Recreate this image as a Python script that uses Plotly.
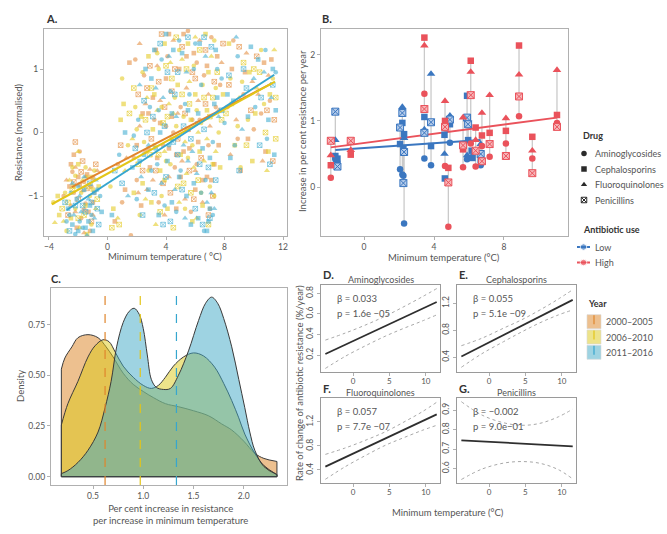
import plotly.graph_objects as go

W, H = 667, 534
FONT = "Lato"
TXT = "#555555"
FRAME = "#B0B0B0"

# ---------------- Panel A: resistance vs minimum temperature (x, y, drug) ----------------
A_2000_2005 = [
    (-2.4,-0.62,'a'),(-2.2,-0.55,'f'),(-2.0,-0.70,'c'),(-1.8,-0.62,'p'),(-1.6,-0.78,'a'),(-1.4,-0.66,'c'),
    (-1.2,-0.58,'f'),(-2.6,-0.85,'c'),(-2.3,-0.95,'a'),(-2.0,-1.05,'p'),(-1.7,-0.92,'f'),(-1.5,-1.12,'a'),
    (-1.3,-1.25,'c'),(-1.1,-1.40,'p'),(-1.8,-1.35,'a'),(-2.1,-1.50,'c'),(-1.6,-1.58,'f'),(-1.2,-1.55,'a'),
    (-2.7,-1.30,'p'),(-2.5,-1.15,'f'),(-1.9,-0.30,'a'),(-2.2,-0.15,'p'),(-1.0,-0.72,'c'),(-0.9,-0.95,'a'),
    (-0.7,-0.60,'f'),(-3.0,-1.00,'a'),(-1.4,-0.88,'p'),(-1.0,-1.10,'c'),
    (-2.8,-0.75,'f'),(-2.5,-0.50,'c'),(-2.3,-0.78,'p'),(-1.9,-0.82,'c'),(-1.5,-0.70,'f'),(-1.1,-0.85,'a'),
    (-0.8,-0.50,'p'),(-2.2,-1.25,'f'),(-1.6,-1.22,'c'),(-1.0,-1.30,'f'),(-2.3,-0.35,'c'),(-1.7,-0.45,'p'),
    (0.5,-1.40,'c'),(1.0,-1.10,'a'),(1.3,-0.40,'f'),(1.6,-1.62,'a'),(1.5,1.10,'c'),(0.9,-0.20,'p'),
    (1.2,-0.90,'c'),(0.7,-0.50,'a'),
    (1.8,-0.40,'a'),(2.0,-0.20,'c'),(2.2,0.10,'f'),(2.4,-0.60,'p'),(2.6,-0.30,'a'),(2.8,0.30,'c'),
    (2.1,0.60,'p'),(2.5,0.90,'a'),(2.9,1.05,'p'),(2.7,-0.90,'f'),(2.3,-1.15,'c'),(2.0,-0.75,'a'),
    (2.9,-0.55,'c'),(1.9,1.15,'a'),(2.6,0.45,'f'),(3.0,-0.10,'p'),
    (2.1,-0.95,'f'),(2.4,0.30,'c'),(2.7,0.70,'p'),(2.2,1.40,'f'),(2.8,-0.25,'a'),
    (3.2,0.20,'a'),(3.4,-0.40,'c'),(3.6,0.50,'f'),(3.8,-0.80,'p'),(4.0,0.10,'a'),(4.2,-0.25,'c'),
    (4.4,0.65,'p'),(4.6,-0.55,'a'),(4.8,0.30,'f'),(3.3,1.30,'c'),(3.7,1.55,'p'),(4.1,1.20,'a'),
    (4.5,1.45,'f'),(4.9,1.00,'c'),(3.5,-1.10,'a'),(3.9,-1.30,'f'),(4.3,-0.95,'p'),(4.7,-1.20,'c'),
    (3.1,-0.75,'f'),(4.0,0.85,'c'),(4.5,0.00,'a'),(3.5,0.80,'p'),(4.8,-0.10,'p'),
    (3.1,0.55,'c'),(3.3,-0.60,'p'),(3.6,0.15,'c'),(3.8,-0.20,'a'),(3.4,1.05,'f'),(3.9,0.40,'p'),
    (4.2,-0.70,'f'),(4.4,0.25,'c'),(4.6,1.00,'p'),(4.7,-0.35,'c'),(4.2,1.55,'c'),
    (5.0,0.40,'a'),(5.2,-0.30,'c'),(5.4,0.70,'f'),(5.6,-0.60,'p'),(5.8,0.20,'a'),(6.0,-0.90,'c'),
    (6.2,0.50,'f'),(6.4,-0.40,'p'),(6.6,0.90,'a'),(6.8,-0.70,'c'),(7.0,0.10,'f'),(7.2,-1.00,'p'),
    (7.4,0.40,'a'),(7.6,-0.20,'c'),(7.8,1.10,'f'),(5.1,1.35,'p'),(5.5,1.60,'a'),(5.9,1.25,'c'),
    (6.3,1.45,'f'),(6.7,1.30,'p'),(7.1,1.50,'a'),(7.5,1.20,'c'),(7.9,1.40,'p'),(5.3,-1.05,'f'),
    (5.7,-1.25,'a'),(6.1,-0.50,'a'),(6.5,-1.10,'f'),(6.9,-1.30,'p'),(7.3,-0.50,'c'),(5.5,0.05,'p'),
    (6.2,-0.15,'c'),(6.9,0.60,'f'),(7.7,0.75,'a'),(5.0,-0.70,'c'),(6.0,0.85,'p'),
    (5.1,-0.45,'f'),(5.3,0.30,'p'),(5.6,-0.25,'c'),(5.8,0.95,'p'),(6.0,-0.60,'f'),(6.3,0.20,'a'),
    (6.5,-0.75,'c'),(6.7,0.45,'p'),(6.9,-0.20,'a'),(7.1,-0.75,'c'),(7.3,0.80,'p'),(7.6,0.35,'f'),
    (5.4,1.20,'c'),(6.1,1.10,'a'),(6.8,1.05,'c'),(7.0,-1.20,'a'),(5.9,-1.05,'p'),(5.2,1.55,'c'),
    (8.2,0.40,'a'),(8.5,1.00,'c'),(8.8,0.20,'f'),(9.0,1.35,'p'),(9.3,0.60,'a'),(9.6,-0.10,'c'),
    (9.9,0.80,'f'),(10.2,1.20,'p'),(10.5,0.30,'a'),(10.8,-0.30,'c'),(11.0,0.90,'f'),(11.3,-0.45,'p'),
    (8.4,-0.35,'f'),(9.1,-0.60,'c'),(10.0,0.05,'a'),(10.7,1.10,'c'),(11.1,0.50,'a'),(8.6,1.45,'a'),
    (9.5,1.25,'f'),(11.4,0.20,'p'),
    (8.3,0.75,'p'),(8.9,-0.10,'a'),(9.4,0.95,'c'),(9.8,0.35,'p'),(10.3,0.60,'f'),(10.6,-0.45,'f'),
    (11.2,1.15,'c'),(10.9,0.35,'p'),
]
A_2006_2010 = [
    (-3.7,-1.10,'a'),(-3.6,-1.42,'f'),(-3.3,-1.30,'c'),(-3.1,-1.20,'p'),(-2.9,-0.95,'a'),(-2.6,-0.75,'f'),
    (-2.4,-0.90,'p'),(-2.2,-0.68,'a'),(-2.0,-0.50,'c'),(-1.7,-0.75,'f'),(-1.5,-0.55,'a'),(-1.3,-0.85,'p'),
    (-1.1,-0.70,'c'),(-0.9,-0.60,'a'),(-2.5,-1.35,'c'),(-2.2,-1.20,'a'),(-1.9,-1.50,'f'),(-1.6,-1.30,'p'),
    (-1.2,-1.00,'a'),(-0.8,-1.20,'f'),(-0.6,-0.85,'c'),(-2.8,-1.55,'a'),(-1.4,-1.60,'c'),(-2.0,-0.30,'f'),
    (-3.4,-1.00,'c'),(-3.0,-1.40,'f'),(-2.7,-1.10,'p'),(-2.3,-0.85,'c'),(-1.8,-0.95,'a'),(-1.4,-0.70,'f'),
    (-1.0,-0.90,'c'),(-0.7,-1.05,'p'),(-2.0,-1.35,'p'),(-1.5,-1.15,'c'),(-2.4,-0.55,'a'),(-1.1,-1.45,'a'),
    (0.2,-0.85,'a'),(0.7,-1.35,'f'),(0.8,-1.45,'p'),(1.1,0.45,'c'),(1.0,0.85,'a'),(1.4,-0.20,'a'),
    (0.4,-1.20,'c'),(1.5,0.30,'p'),(0.3,-1.50,'p'),(1.2,-0.60,'f'),(0.9,0.20,'c'),
    (1.7,-0.10,'f'),(1.9,0.40,'a'),(2.1,-0.50,'p'),(2.3,0.25,'c'),(2.5,-0.15,'a'),(2.7,0.55,'f'),
    (2.9,-0.35,'p'),(1.8,-0.95,'c'),(2.2,-1.30,'a'),(2.6,-1.05,'f'),(2.4,0.95,'a'),(2.8,1.20,'c'),
    (3.0,0.70,'p'),(1.8,0.70,'p'),(2.0,0.05,'a'),(2.4,-0.80,'c'),(2.6,0.20,'p'),(2.8,-0.60,'a'),
    (3.0,-1.10,'c'),
    (3.2,-0.20,'a'),(3.4,0.35,'f'),(3.6,-0.60,'c'),(3.8,0.15,'p'),(4.0,-0.45,'a'),(4.2,0.45,'f'),
    (4.4,-0.10,'c'),(4.6,0.55,'a'),(4.8,-0.85,'p'),(3.3,-1.45,'f'),(3.7,-1.00,'a'),(4.1,-1.20,'c'),
    (4.5,-1.50,'p'),(4.9,-1.10,'f'),(3.5,1.00,'a'),(3.9,1.40,'c'),(4.3,1.10,'f'),(4.7,1.50,'p'),
    (3.1,0.05,'c'),(4.4,0.85,'p'),(3.9,-0.30,'f'),(4.7,0.10,'a'),
    (3.2,0.60,'c'),(3.5,-0.35,'p'),(3.7,0.40,'a'),(3.9,-0.75,'c'),(4.1,0.25,'p'),(4.3,-0.50,'a'),
    (4.5,0.30,'f'),(4.8,0.75,'c'),(3.4,1.25,'a'),(4.0,1.05,'p'),(4.9,1.30,'a'),(3.6,-1.25,'p'),
    (5.0,-0.35,'c'),(5.2,0.25,'a'),(5.4,-0.65,'f'),(5.6,0.45,'p'),(5.8,-0.20,'a'),(6.0,0.60,'c'),
    (6.2,-0.75,'p'),(6.4,0.15,'a'),(6.6,-0.45,'f'),(6.8,0.35,'c'),(7.0,-0.85,'a'),(7.2,0.55,'p'),
    (7.4,-0.30,'f'),(7.6,0.00,'a'),(7.9,0.60,'c'),(5.1,1.15,'f'),(5.5,1.40,'c'),(5.9,1.05,'a'),
    (6.3,1.30,'p'),(6.7,1.55,'c'),(7.1,1.20,'f'),(7.5,0.95,'p'),(5.3,-1.20,'a'),(5.7,-0.95,'p'),
    (6.1,-1.35,'f'),(6.5,-1.15,'c'),(6.9,-1.45,'p'),(7.3,-1.00,'a'),(5.6,0.80,'f'),(6.5,0.75,'a'),
    (7.7,-0.55,'c'),(5.2,-0.80,'p'),(6.2,0.00,'f'),
    (5.1,0.60,'p'),(5.3,-0.15,'f'),(5.5,-0.40,'a'),(5.7,0.20,'c'),(5.9,-0.55,'f'),(6.1,0.35,'a'),
    (6.3,-0.30,'c'),(6.6,0.55,'p'),(6.8,-0.10,'f'),(7.0,0.25,'p'),(7.2,-0.50,'c'),(7.4,0.70,'a'),
    (7.8,0.20,'p'),(5.4,1.00,'p'),(6.0,1.50,'f'),(6.9,0.95,'c'),(7.3,1.45,'a'),(6.4,-0.95,'a'),
    (5.8,-1.40,'c'),
    (8.1,0.30,'p'),(8.4,0.85,'a'),(8.7,-0.20,'c'),(9.0,0.55,'f'),(9.3,1.10,'p'),(9.6,0.20,'a'),
    (9.9,-0.45,'c'),(10.2,0.70,'f'),(10.5,1.30,'a'),(10.8,0.00,'p'),(11.1,0.60,'c'),(11.4,1.30,'f'),
    (8.3,1.40,'c'),(9.1,-0.55,'a'),(10.0,1.00,'p'),(10.9,-0.60,'f'),(11.3,0.85,'a'),(8.9,0.10,'a'),
    (9.7,0.95,'c'),(11.5,-0.10,'p'),
    (8.5,0.45,'c'),(9.2,0.80,'a'),(9.5,-0.20,'p'),(10.1,0.30,'c'),(10.4,0.95,'p'),(10.7,0.45,'a'),
    (11.0,-0.30,'c'),(11.5,0.55,'p'),
]
A_2011_2016 = [
    (-2.7,-1.20,'c'),(-2.6,-1.55,'p'),(-2.5,-0.95,'a'),(-2.3,-1.30,'f'),(-2.1,-1.05,'c'),(-1.9,-1.40,'a'),
    (-1.7,-1.15,'p'),(-1.5,-1.50,'c'),(-1.3,-1.05,'f'),(-1.1,-1.30,'a'),(-0.9,-0.95,'c'),(-0.7,-1.20,'p'),
    (-0.5,-1.00,'a'),(-2.4,-0.80,'f'),(-2.0,-0.85,'a'),(-1.6,-0.90,'c'),(-1.2,-0.80,'p'),(-0.8,-0.75,'f'),
    (-2.2,-1.60,'a'),(-1.4,-1.62,'f'),(-1.0,-1.55,'c'),(-2.8,-1.40,'a'),(-1.8,-1.25,'f'),(-0.6,-1.45,'p'),
    (-1.2,-1.15,'c'),
    (-2.9,-1.10,'p'),(-2.6,-1.30,'a'),(-2.4,-1.45,'c'),(-2.2,-1.15,'p'),(-1.9,-1.00,'f'),(-1.7,-1.50,'a'),
    (-1.5,-1.25,'p'),(-1.3,-1.40,'c'),(-1.1,-1.10,'p'),(-0.9,-1.35,'f'),(-0.7,-0.90,'a'),(-2.0,-1.55,'c'),
    (-1.6,-0.70,'f'),(-0.4,-1.25,'c'),
    (0.8,-0.35,'a'),(1.2,0.00,'c'),(0.5,-0.60,'p'),(1.4,-1.00,'f'),(1.0,-0.80,'p'),(0.3,-1.30,'c'),
    (1.7,-0.55,'c'),(1.9,-0.25,'p'),(2.1,0.20,'a'),(2.3,-0.70,'f'),(2.5,-0.35,'c'),(2.7,0.00,'p'),
    (2.9,0.40,'a'),(2.0,-1.05,'a'),(2.4,-1.30,'p'),(2.8,-0.90,'c'),(2.2,0.75,'f'),(2.6,1.00,'c'),
    (3.0,-0.60,'a'),(1.8,-0.05,'a'),(2.2,-0.45,'c'),(2.5,0.50,'p'),(2.8,-0.20,'f'),(3.0,0.85,'c'),
    (3.2,-0.95,'p'),(3.4,-0.50,'a'),(3.6,0.00,'c'),(3.8,0.55,'f'),(4.0,-0.70,'p'),(4.2,-0.20,'a'),
    (4.4,0.30,'c'),(4.6,-0.90,'f'),(4.8,-0.35,'p'),(3.3,0.70,'f'),(3.7,1.15,'a'),(4.1,0.95,'p'),
    (4.5,1.30,'c'),(4.9,1.45,'a'),(3.5,-1.30,'c'),(3.9,-1.15,'a'),(4.3,-1.40,'p'),(4.7,-1.25,'a'),
    (3.1,0.25,'p'),(4.0,1.55,'c'),(4.6,0.60,'p'),(3.6,1.40,'p'),
    (3.3,-0.25,'c'),(3.5,0.35,'a'),(3.7,-0.80,'f'),(3.9,0.10,'p'),(4.1,-0.45,'c'),(4.3,0.65,'a'),
    (4.5,-0.15,'p'),(4.7,0.25,'f'),(4.9,-0.70,'c'),(3.2,1.30,'c'),(4.2,1.20,'f'),(4.8,0.95,'p'),
    (3.8,-1.45,'p'),(4.4,-1.10,'c'),
    (5.0,-0.60,'a'),(5.2,0.10,'p'),(5.4,-1.00,'c'),(5.6,0.60,'a'),(5.8,-0.30,'f'),(6.0,-1.20,'p'),
    (6.2,0.30,'c'),(6.4,-0.95,'a'),(6.6,0.05,'p'),(6.8,-1.10,'f'),(7.0,-0.40,'c'),(7.2,-1.30,'a'),
    (7.4,-0.75,'p'),(7.6,0.25,'f'),(7.8,0.85,'a'),(5.1,1.25,'c'),(5.5,1.50,'p'),(5.9,1.00,'a'),
    (6.3,1.40,'c'),(6.7,1.20,'f'),(7.1,1.35,'p'),(7.5,1.00,'a'),(5.3,-1.35,'f'),(5.7,-1.45,'c'),
    (6.1,-0.65,'f'),(6.5,-1.45,'p'),(6.9,-1.40,'c'),(7.3,-1.20,'f'),(6.6,-1.55,'a'),(7.0,-1.35,'p'),
    (5.5,0.35,'c'),(6.4,0.75,'a'),(7.3,0.45,'c'),(5.2,-0.20,'f'),
    (5.1,-0.90,'p'),(5.3,0.45,'a'),(5.5,-0.45,'f'),(5.7,-0.10,'p'),(5.9,-0.80,'c'),(6.1,0.15,'a'),
    (6.3,-0.50,'p'),(6.5,-0.25,'c'),(6.7,-0.75,'a'),(6.9,-0.55,'p'),(7.1,-0.95,'f'),(7.2,-0.15,'a'),
    (7.5,0.55,'c'),(7.8,0.35,'p'),(5.4,0.95,'f'),(6.0,1.40,'a'),(6.6,1.50,'p'),(7.4,1.30,'c'),
    (6.2,-1.35,'c'),(6.8,-1.55,'c'),(7.0,-1.20,'c'),
    (8.0,0.15,'a'),(8.3,0.90,'p'),(8.6,0.50,'c'),(8.9,1.20,'a'),(9.2,0.05,'f'),(9.5,0.70,'p'),
    (9.8,1.35,'c'),(10.1,0.40,'a'),(10.4,-0.20,'p'),(10.7,0.95,'f'),(11.0,0.20,'c'),(11.3,0.75,'p'),
    (11.5,0.95,'a'),(8.4,-0.40,'c'),(9.0,-0.60,'p'),(10.3,1.15,'c'),(10.9,-0.10,'a'),(11.2,0.55,'f'),
    (11.4,-0.35,'c'),(8.8,1.50,'f'),
    (8.2,0.60,'c'),(8.7,-0.20,'a'),(9.3,1.00,'p'),(9.6,0.25,'c'),(10.0,0.85,'f'),(10.5,0.55,'p'),
    (10.8,1.30,'a'),(11.1,-0.50,'p'),(11.5,0.35,'c'),(11.3,1.00,'c'),
]
A_fit_x = {"2000–2005": [-2.44, 11.2], "2006–2010": [-3.81, 11.45], "2011–2016": [-2.79, 11.4]}
A_fit_y = {"2000–2005": [-0.86, 0.77], "2006–2010": [-1.13, 0.80], "2011–2016": [-1.22, 0.91]}

# ---------------- Panel B: per-country rates (temp, use, amino, ceph, fluoro, pen) ----------------
B_columns = [
    (-1.64, 'Low', 0.42, 0.47, 0.71, 1.14),
    (-1.52, 'Low', 0.37, 0.43, None, 0.31),
    (2.06, 'Low', 0.27, 0.65, None, 0.90),
    (2.19, 'Low', 0.19, 0.97, 1.21, 1.12),
    (2.29, 'Low', -0.55, 0.80, 0.74, 0.53),
    (2.25, 'Low', 0.17, 0.59, None, 0.06),
    (3.45, 'Low', 0.43, 1.06, 0.87, 0.82),
    (3.83, 'Low', 0.33, 0.62, 1.71, 0.98),
    (4.60, 'Low', None, 0.79, 0.50, None),
    (4.62, 'Low', None, 0.13, None, None),
    (4.91, 'Low', 0.67, 0.95, 1.08, 1.02),
    (5.89, 'Low', 0.42, 1.38, 0.48, 1.05),
    (5.95, 'Low', None, 0.71, None, 0.95),
    (6.15, 'Low', 0.45, 0.55, None, None),
    (6.20, 'Low', None, 0.44, None, None),
    (6.67, 'Low', 0.33, 0.41, 0.65, 0.50),
    (-1.90, 'High', 0.14, 0.33, 0.48, 0.70),
    (-0.76, 'High', None, 0.49, 0.56, 0.70),
    (3.45, 'High', 1.41, 2.26, 2.14, 1.18),
    (4.63, 'High', 0.32, 1.00, 1.30, 0.91),
    (4.82, 'High', -0.60, 0.29, None, 0.07),
    (5.66, 'High', 0.30, 0.57, 1.05, 0.63),
    (6.10, 'High', 0.66, 1.91, 1.74, 1.39),
    (6.38, 'High', 0.31, 0.90, 0.71, 0.55),
    (6.74, 'High', 0.62, 0.78, 1.12, 0.39),
    (7.18, 'High', 0.46, 0.82, 1.39, 0.65),
    (8.11, 'High', 0.66, 0.85, 1.04, 0.47),
    (8.86, 'High', 1.07, 2.14, 1.70, 1.37),
    (9.62, 'High', 0.43, 0.76, 0.55, 0.21),
    (11.03, 'High', 0.97, 1.09, 1.77, 0.91),
]
B_fit_x = {"Low": [-1.64, 6.67], "High": [-1.90, 11.03]}
B_fit_y = {"Low": [0.56, 0.71], "High": [0.60, 1.05]}

# ---------------- Panel C: density of per-country slopes ----------------
C_x = {
    "2000–2005": [0.185,0.22,0.29,0.35,0.45,0.55,0.63,0.70,0.80,0.90,1.00,1.10,1.22,1.35,1.50,1.65,1.78,1.88,2.00,2.11,2.20,2.33],
    "2006–2010": [0.185,0.25,0.35,0.45,0.52,0.60,0.66,0.72,0.80,0.90,1.00,1.08,1.15,1.22,1.30,1.40,1.50,1.60,1.71,1.80,1.88,1.95,2.01,2.11,2.20,2.33],
    "2011–2016": [0.185,0.25,0.35,0.45,0.55,0.62,0.68,0.735,0.80,0.86,0.91,0.96,1.00,1.04,1.08,1.13,1.20,1.27,1.35,1.45,1.55,1.62,1.68,1.74,1.80,1.88,1.95,2.01,2.06,2.11,2.20,2.33],
}
C_y = {
    "2000–2005": [0.53,0.585,0.64,0.685,0.70,0.685,0.64,0.59,0.51,0.455,0.42,0.39,0.36,0.345,0.325,0.30,0.26,0.23,0.175,0.115,0.09,0.075],
    "2006–2010": [0.255,0.36,0.47,0.59,0.645,0.675,0.665,0.615,0.545,0.49,0.45,0.435,0.45,0.49,0.545,0.59,0.61,0.595,0.54,0.46,0.375,0.29,0.21,0.115,0.055,0.01],
    "2011–2016": [0.015,0.03,0.07,0.13,0.22,0.34,0.47,0.64,0.76,0.815,0.83,0.80,0.73,0.60,0.48,0.44,0.43,0.435,0.50,0.62,0.77,0.855,0.885,0.855,0.78,0.64,0.48,0.34,0.22,0.13,0.05,0.01],
}
C_means = {"2000–2005": 0.62, "2006–2010": 0.97, "2011–2016": 1.33}

# ---------------- Panels D-G: rate of change vs temperature ----------------
DG_drugs = ["Aminoglycosides", "Cephalosporins", "Fluoroquinolones", "Penicillins"]
DG_fit_x = [-3.8, 11.5]
DG_fit_y = {"Aminoglycosides": [0.21, 0.715], "Cephalosporins": [0.41, 1.25],
            "Fluoroquinolones": [0.455, 1.327], "Penicillins": [0.745, 0.714]}
DG_ci_x = [-3.8, -1.0, 2.0, 4.5, 7.0, 9.5, 11.5]
DG_upper = {"Aminoglycosides": [0.345, 0.415, 0.50, 0.58, 0.67, 0.765, 0.845],
            "Cephalosporins": [0.57, 0.68, 0.83, 0.955, 1.10, 1.26, 1.40],
            "Fluoroquinolones": [0.66, 0.77, 0.91, 1.04, 1.20, 1.37, 1.53],
            "Penicillins": [0.943, 0.875, 0.835, 0.822, 0.832, 0.865, 0.905]}
DG_lower = {"Aminoglycosides": [0.07, 0.19, 0.30, 0.385, 0.46, 0.53, 0.59],
            "Cephalosporins": [0.25, 0.45, 0.63, 0.775, 0.91, 1.025, 1.10],
            "Fluoroquinolones": [0.245, 0.46, 0.66, 0.815, 0.94, 1.06, 1.145],
            "Penicillins": [0.544, 0.597, 0.628, 0.636, 0.627, 0.595, 0.547]}
DG_beta = {"Aminoglycosides": "β = 0.033", "Cephalosporins": "β = 0.055",
           "Fluoroquinolones": "β = 0.057", "Penicillins": "β = −0.002"}
DG_p = {"Aminoglycosides": "p = 1.6e −05", "Cephalosporins": "p = 5.1e −09",
        "Fluoroquinolones": "p = 7.7e −07", "Penicillins": "p = 9.0e−01"}
DG_yticks = {"Aminoglycosides": [0.2, 0.4, 0.6, 0.8], "Cephalosporins": [0.4, 0.8, 1.2],
             "Fluoroquinolones": [0.4, 0.8, 1.2], "Penicillins": [0.6, 0.7, 0.8, 0.9]}
DG_yrange = {"Aminoglycosides": [0.035, 0.88], "Cephalosporins": [0.18, 1.47],
             "Fluoroquinolones": [0.183, 1.6], "Penicillins": [0.526, 0.962]}

# ---------------- styles ----------------
YEARS = ["2000–2005", "2006–2010", "2011–2016"]
PT_COL = {"2000–2005": "rgb(228,145,70)", "2006–2010": "rgb(228,204,40)", "2011–2016": "rgb(70,175,210)"}
FIT_COL = {"2000–2005": "#E0852C", "2006–2010": "#E3C518", "2011–2016": "#36A6CF"}
FILL_COL = {"2000–2005": "rgba(219,129,31,0.5)", "2006–2010": "rgba(219,199,21,0.5)", "2011–2016": "rgba(61,167,197,0.5)"}
FILL_SOLID = {"2000–2005": "#EDC08F", "2006–2010": "#EDE38A", "2011–2016": "#9ED3E2"}
USE_COL = {"Low": "#3B77C0", "High": "#EA525B"}
USE_LIGHT = {"Low": "#B6CCEA", "High": "#F6B6B9"}
DRUG_CODES = ['a', 'c', 'f', 'p']
DRUG_NAMES = ["Aminoglycosides", "Cephalosporins", "Fluoroquinolones", "Penicillins"]
SYMBOL = {'a': 'circle', 'c': 'square', 'f': 'triangle-up', 'p': 'square-x-open'}


def px(X):
    return X / W


def py(Y):
    return 1 - Y / H


def axis(x0, x1, rng, ticks, anchor, tickangle=None, vertical=False, y0=None, y1=None):
    d = dict(domain=[py(y1), py(y0)] if vertical else [px(x0), px(x1)], range=rng,
             tickmode='array', tickvals=ticks, showline=True, mirror=True, linecolor=FRAME,
             linewidth=1.3, ticks='outside', ticklen=3, tickcolor=FRAME, tickwidth=1,
             tickfont=dict(size=8.5, color=TXT, family=FONT), showgrid=False, zeroline=False,
             anchor=anchor, fixedrange=True)
    if tickangle is not None:
        d['tickangle'] = tickangle
    return d


fig = go.Figure()

# ---- Panel A
for yr, pts in zip(YEARS, [A_2000_2005, A_2006_2010, A_2011_2016]):
    for code in DRUG_CODES:
        sel = [p for p in pts if p[2] == code]
        is_open = code == 'p'
        fig.add_trace(go.Scatter(
            x=[p[0] for p in sel], y=[p[1] for p in sel], mode='markers', xaxis='x', yaxis='y',
            marker=dict(symbol=SYMBOL[code], size=4.6 if code != 'f' else 5.4, color=PT_COL[yr], opacity=0.6,
                        line=dict(width=1 if is_open else 0, color=PT_COL[yr])),
            showlegend=False, hoverinfo='skip'))
for yr in YEARS:
    fig.add_trace(go.Scatter(x=A_fit_x[yr], y=A_fit_y[yr], mode='lines', xaxis='x', yaxis='y',
                             line=dict(color=FIT_COL[yr], width=2), showlegend=False, hoverinfo='skip'))

# ---- Panel B
seg_x, seg_y = [], []
for col in B_columns:
    vals = [v for v in col[2:] if v is not None]
    seg_x += [col[0], col[0], None]
    seg_y += [min(vals), max(vals), None]
fig.add_trace(go.Scatter(x=seg_x, y=seg_y, mode='lines', xaxis='x2', yaxis='y2',
                         line=dict(color='#CACACA', width=1.3), showlegend=False, hoverinfo='skip'))
for use in ["Low", "High"]:
    fig.add_trace(go.Scatter(x=B_fit_x[use], y=B_fit_y[use], mode='lines', xaxis='x2', yaxis='y2',
                             line=dict(color=USE_COL[use], width=2), showlegend=False, hoverinfo='skip'))
for use in ["Low", "High"]:
    for i, code in enumerate(DRUG_CODES):
        xs = [c[0] for c in B_columns if c[1] == use and c[2 + i] is not None]
        ys = [c[2 + i] for c in B_columns if c[1] == use and c[2 + i] is not None]
        if code == 'p':
            mk = dict(symbol='square-x', size=7, color=USE_LIGHT[use], line=dict(width=1, color=USE_COL[use]))
        else:
            mk = dict(symbol=SYMBOL[code], size=6.5 if code != 'f' else 7.5, color=USE_COL[use], line=dict(width=0))
        fig.add_trace(go.Scatter(x=xs, y=ys, mode='markers', xaxis='x2', yaxis='y2', marker=mk,
                                 showlegend=False, hoverinfo='skip'))

# ---- Panel C
for yr in YEARS:
    xs, ys = C_x[yr], C_y[yr]
    fig.add_trace(go.Scatter(x=xs, y=ys, mode='lines', fill='tozeroy', fillcolor=FILL_COL[yr],
                             line=dict(color='#3A3A3A', width=1, shape='spline', smoothing=1.0),
                             xaxis='x3', yaxis='y3', showlegend=False, hoverinfo='skip'))
    fig.add_trace(go.Scatter(x=[xs[0], xs[0], None, xs[-1], xs[-1], None, xs[0], xs[-1]],
                             y=[0, ys[0], None, 0, ys[-1], None, 0, 0], mode='lines',
                             line=dict(color='#3A3A3A', width=1), xaxis='x3', yaxis='y3',
                             showlegend=False, hoverinfo='skip'))
shapes = []
for yr in YEARS:
    shapes.append(dict(type='line', xref='x3', yref='y3 domain', x0=C_means[yr], x1=C_means[yr], y0=0, y1=1,
                       line=dict(color=FIT_COL[yr], width=1.2, dash='dash')))

# ---- Panels D-G
dg_axes = [("x4", "y4"), ("x5", "y5"), ("x6", "y6"), ("x7", "y7")]
for drug, (xa, ya) in zip(DG_drugs, dg_axes):
    for arr in (DG_upper[drug], DG_lower[drug]):
        fig.add_trace(go.Scatter(x=DG_ci_x, y=arr, mode='lines', xaxis=xa, yaxis=ya,
                                 line=dict(color='#A8A8A8', width=1, dash='dot', shape='spline'),
                                 showlegend=False, hoverinfo='skip'))
    fig.add_trace(go.Scatter(x=DG_fit_x, y=DG_fit_y[drug], mode='lines', xaxis=xa, yaxis=ya,
                             line=dict(color='#2E2E2E', width=1.8), showlegend=False, hoverinfo='skip'))

# ---- Legend glyphs (overlay pixel axis)
LEG_X = 584
DRUG_Y0, STEP = 153.5, 15.5
for i, code in enumerate(DRUG_CODES):
    mk = dict(symbol=SYMBOL[code], size=5.5, color='#2A2A2A',
              line=dict(width=1 if code == 'p' else 0, color='#2A2A2A'))
    fig.add_trace(go.Scatter(x=[LEG_X], y=[DRUG_Y0 + STEP * i], mode='markers', marker=mk,
                             xaxis='x8', yaxis='y8', showlegend=False, hoverinfo='skip'))
USE_Y0 = 247
for i, use in enumerate(["Low", "High"]):
    yy = USE_Y0 + STEP * i
    fig.add_trace(go.Scatter(x=[577, 583.5, 590], y=[yy, yy, yy], mode='lines+markers',
                             line=dict(color=USE_COL[use], width=2),
                             marker=dict(size=[0, 6.5, 0], color=USE_COL[use]),
                             xaxis='x8', yaxis='y8', showlegend=False, hoverinfo='skip'))
YEAR_Y0, YSTEP = 321.7, 15.3
for i, yr in enumerate(YEARS):
    yc = YEAR_Y0 + YSTEP * i
    shapes.append(dict(type='rect', xref='x8', yref='y8', x0=587, x1=601, y0=yc - 7, y1=yc + 7,
                       fillcolor=FILL_SOLID[yr], line=dict(width=0.6, color='#D8D8D8'), layer='above'))
    shapes.append(dict(type='line', xref='x8', yref='y8', x0=594, x1=594, y0=yc - 6.5, y1=yc + 6.5,
                       line=dict(color=FIT_COL[yr], width=1.2, dash='dash'), layer='above'))

# ---- Annotations
ann = []


def text(X, Y, s, size=9.5, color=TXT, xanchor='center', angle=0, bold=False, yanchor='middle'):
    ann.append(dict(x=px(X), y=py(Y), xref='paper', yref='paper', text=f"<b>{s}</b>" if bold else s,
                    showarrow=False, xanchor=xanchor, yanchor=yanchor, textangle=angle,
                    font=dict(size=size, color=color, family=FONT)))


for lab, X, Y in [("A.", 44, 19), ("B.", 320, 19), ("C.", 49, 278), ("D.", 321, 274), ("E.", 457, 274),
                  ("F.", 321, 388), ("G.", 457, 388)]:
    text(X, Y, lab, size=11, color='#333333', xanchor='left', bold=True)

text(165, 256, "Minimum temperature ( °C)")
text(19, 132, "Resistance (normalised)", angle=-90)
text(444, 257, "Minimum temperature (°C)")
text(302, 131, "Increase in per cent resistance per year", angle=-90)
text(20, 386, "Density", angle=-90)
text(170, 514, "Per cent increase in resistance<br>per increase in minimum temperature")
text(299, 383, "Rate of change of antibiotic resistance (%/year)", angle=-90)
text(448, 512, "Minimum temperature (°C)")

titles_pos = [(380.5, 279), (516.5, 279), (380.5, 392.5), (516.5, 392.5)]
stat_pos = [(335, 298, 313.5), (471, 298, 313.5), (335, 411.5, 426.5), (471, 411.5, 426.5)]
for drug, (tx, ty), (sx, sy1, sy2) in zip(DG_drugs, titles_pos, stat_pos):
    text(tx, ty, drug, size=9)
    text(sx, sy1, DG_beta[drug], size=9.5, xanchor='left')
    text(sx, sy2, DG_p[drug], size=9.5, xanchor='left')

# legend texts
LSZ = 9
text(581, 135.5, "Drug", size=LSZ, color='#333333', xanchor='left', bold=True)
for i, nm in enumerate(DRUG_NAMES):
    text(592.5, DRUG_Y0 + STEP * i, nm, size=LSZ, xanchor='left')
text(581, 229, "Antibiotic use", size=LSZ, color='#333333', xanchor='left', bold=True)
for i, use in enumerate(["Low", "High"]):
    text(593, USE_Y0 + STEP * i, use, size=LSZ, xanchor='left')
text(586, 303, "Year", size=LSZ, color='#333333', xanchor='left', bold=True)
for i, yr in enumerate(YEARS):
    text(604, YEAR_Y0 + YSTEP * i, yr, size=LSZ, xanchor='left')

layout = dict(
    width=W, height=H, margin=dict(l=0, r=0, t=0, b=0), paper_bgcolor='white',
    plot_bgcolor='rgba(0,0,0,0)',
    font=dict(family=FONT, color=TXT), showlegend=False, shapes=shapes, annotations=ann,
    xaxis=axis(44, 287, [-4.34, 12.27], [-4, 0, 4, 8, 12], 'y'),
    yaxis=axis(None, None, [-1.63, 1.63], [-1, 0, 1], 'x', vertical=True, y0=29, y1=236),
    xaxis2=axis(321, 568, [-2.46, 11.66], [0, 4, 8], 'y2'),
    yaxis2=axis(None, None, [-0.74, 2.39], [0, 1, 2], 'x2', vertical=True, y0=29, y1=236),
    xaxis3=axis(51, 287, [0.082, 2.43], [0.5, 1.0, 1.5, 2.0], 'y3'),
    yaxis3=axis(None, None, [-0.041, 0.93], [0, 0.25, 0.5, 0.75], 'x3', vertical=True, y0=288, y1=485),
    xaxis8=dict(domain=[0, 1], range=[0, W], visible=False, fixedrange=True, anchor='y8'),
    yaxis8=dict(domain=[0, 1], range=[H, 0], visible=False, fixedrange=True, anchor='x8'),
)
layout['xaxis3']['ticktext'] = ["0.5", "1.0", "1.5", "2.0"]
layout['yaxis3']['ticktext'] = ["0.00", "0.25", "0.50", "0.75"]
dg_boxes = [(321, 440, 285, 372), (457, 576, 285, 372), (321, 440, 398, 483), (457, 576, 398, 483)]
for k, (drug, (x0, x1, y0, y1)) in enumerate(zip(DG_drugs, dg_boxes)):
    n = k + 4
    layout[f'xaxis{n}'] = axis(x0, x1, [-4.4, 11.95], [0, 5, 10], f'y{n}')
    layout[f'xaxis{n}']['ticklabelstandoff'] = -2
    layout[f'xaxis{n}']['tickfont'] = dict(size=8, color=TXT, family=FONT)
    layout[f'yaxis{n}'] = axis(None, None, DG_yrange[drug], DG_yticks[drug], f'x{n}', tickangle=-90,
                               vertical=True, y0=y0, y1=y1)
    layout[f'xaxis{n}']['linecolor'] = '#9A9A9A'
    layout[f'yaxis{n}']['linecolor'] = '#9A9A9A'
fig.update_layout(**layout)
fig.write_html("out.html", config={'displayModeBar': False},
               post_script="document.body.style.margin='0';document.body.style.padding='0';")
